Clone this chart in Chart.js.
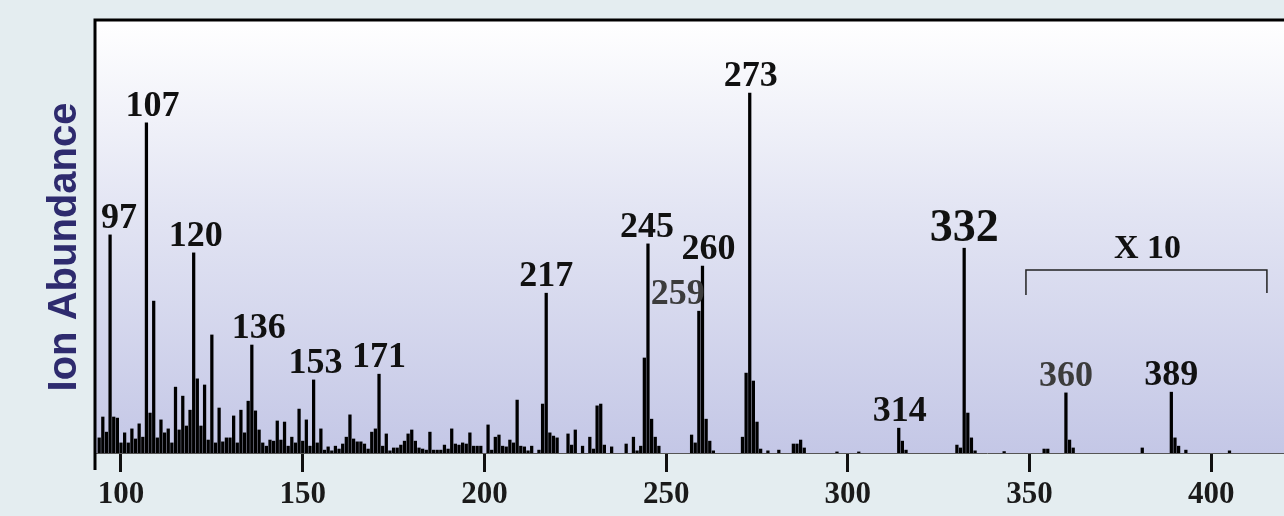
<!DOCTYPE html>
<html>
<head>
<meta charset="utf-8">
<script src="https://cdn.jsdelivr.net/npm/chart.js@4/dist/chart.umd.min.js"></script>
<style>
  body { margin: 0; background: #e4edf0; }
  #wrap { width: 1284px; height: 516px; position: relative; }
</style>
</head>
<body>
<div id="wrap"><canvas id="spectrum"></canvas></div>
<script>
'use strict';

// m/z values and relative abundance (% of base peak 273)
var masses = [
    94, 95, 96, 97, 98, 99, 100, 101, 102, 103, 104, 105, 106, 107, 108, 109,
    110, 111, 112, 113, 114, 115, 116, 117, 118, 119, 120, 121, 122, 123, 124, 125,
    126, 127, 128, 129, 130, 131, 132, 133, 134, 135, 136, 137, 138, 139, 140, 141,
    142, 143, 144, 145, 146, 147, 148, 149, 150, 151, 152, 153, 154, 155, 156, 157,
    158, 159, 160, 161, 162, 163, 164, 165, 166, 167, 168, 169, 170, 171, 172, 173,
    174, 175, 176, 177, 178, 179, 180, 181, 182, 183, 184, 185, 186, 187, 188, 189,
    190, 191, 192, 193, 194, 195, 196, 197, 198, 199, 201, 202, 203, 204, 205, 206,
    207, 208, 209, 210, 211, 212, 213, 215, 216, 217, 218, 219, 220, 223, 224, 225,
    227, 229, 230, 231, 232, 233, 235, 239, 241, 242, 243, 244, 245, 246, 247, 248,
    257, 258, 259, 260, 261, 262, 263, 271, 272, 273, 274, 275, 276, 278, 281, 285,
    286, 287, 288, 297, 303, 314, 315, 316, 330, 331, 332, 333, 334, 335, 343, 354,
    355, 360, 361, 362, 381, 389, 390, 391, 393, 405
];
var abundance = [
    4.2, 10, 5.8, 60.6, 10, 9.7, 2.8, 5.6, 2.8, 6.7, 3.9, 8.1, 4.4, 91.7, 11.1, 42.2,
    4.2, 9.2, 5.6, 6.7, 2.8, 18.3, 6.4, 15.8, 7.5, 11.9, 55.6, 20.6, 7.5, 18.9, 3.6, 32.8,
    2.8, 12.5, 3.1, 4.2, 4.2, 10.3, 2.8, 11.9, 5.6, 14.4, 30, 11.7, 6.4, 2.8, 1.9, 3.6,
    3.3, 8.9, 3.6, 8.6, 1.9, 4.4, 2.8, 12.2, 3.3, 9.2, 1.9, 20.3, 2.8, 6.7, 0.8, 1.7,
    0.6, 1.9, 1.1, 2.5, 4.4, 10.6, 3.9, 3.1, 3.1, 2.5, 1.1, 5.8, 6.7, 21.9, 1.9, 5.3,
    0.6, 1.4, 1.4, 2.2, 3.3, 5.3, 6.4, 3.3, 1.4, 1.1, 0.8, 5.8, 0.8, 0.8, 0.8, 2.2,
    1.1, 6.7, 2.5, 2.2, 2.8, 2.5, 5.6, 1.9, 1.9, 1.9, 7.8, 0.8, 4.4, 5, 1.9, 1.7,
    3.6, 2.8, 14.7, 1.9, 1.7, 0.6, 1.9, 0.8, 13.6, 44.4, 5.6, 4.7, 4.2, 5.3, 2.2, 6.4,
    1.9, 4.4, 1.1, 13.1, 13.6, 2.2, 1.7, 2.5, 4.4, 0.6, 1.9, 26.4, 58.1, 9.4, 4.4, 1.9,
    5, 2.8, 39.4, 51.9, 9.4, 3.3, 0.6, 4.4, 22.2, 100, 20, 8.6, 1.1, 0.6, 0.8, 2.5,
    2.5, 3.6, 1.4, 0.3, 0.3, 6.9, 3.3, 0.8, 2.2, 1.4, 56.9, 11.1, 4.2, 0.6, 0.4, 1.1,
    1.1, 16.7, 3.6, 1.4, 1.4, 16.9, 4.2, 1.9, 0.8, 0.6
];

var tickValues = [100, 150, 200, 250, 300, 350, 400];
var labelledPeaks = [97, 107, 120, 136, 153, 171, 217, 245, 259, 260, 273, 314, 332, 360, 389];

// "X 10" bracket over the high-mass region (m/z from, m/z to)
var zoomRange = [349, 415.3];
var zoomText = 'X 10';

// label nudges in pixels, so numbers sit as in the original figure
var labelShift = { 97: 9, 107: 6, 120: 2, 136: 7, 153: 2, 245: -1, 259: -21, 260: 6, 273: 1, 314: 1 };

var spectrumDecor = {
    id: 'spectrumDecor',
    beforeDraw: function(chart) {
        var ctx = chart.ctx;
        var a = chart.chartArea;
        var g = ctx.createLinearGradient(0, a.top, 0, a.bottom);
        g.addColorStop(0, '#ffffff');
        g.addColorStop(0.45, '#e2e4f3');
        g.addColorStop(1, '#c4c7e6');
        ctx.save();
        ctx.fillStyle = g;
        ctx.fillRect(a.left, a.top, a.right - a.left, a.bottom - a.top);
        ctx.restore();
    },
    afterDraw: function(chart) {
        var ctx = chart.ctx;
        var a = chart.chartArea;
        var xs = chart.scales.x;
        var ys = chart.scales.y;
        ctx.save();

        // frame: top and left sides only
        ctx.strokeStyle = '#000';
        ctx.lineWidth = 3;
        ctx.beginPath();
        ctx.moveTo(a.right, a.top);
        ctx.lineTo(a.left, a.top);
        ctx.lineTo(a.left, a.bottom + 17);
        ctx.stroke();

        // peak labels
        ctx.textAlign = 'center';
        ctx.textBaseline = 'alphabetic';
        labelledPeaks.forEach(function(m) {
            var v = abundance[masses.indexOf(m)];
            var x = xs.getPixelForValue(m) + (labelShift[m] || 0);
            var y = ys.getPixelForValue(v) - 7;
            if (m === 259 || m === 360) {
                ctx.font = 'bold 36px "Liberation Serif"';
                ctx.fillStyle = '#3c3c3c';
            } else if (m === 332) {
                ctx.font = 'bold 46px "Liberation Serif"';
                ctx.fillStyle = '#111';
            } else {
                ctx.font = 'bold 36px "Liberation Serif"';
                ctx.fillStyle = '#111';
            }
            ctx.fillText(String(m), x, y);
        });

        // x10 bracket
        var bx1 = xs.getPixelForValue(zoomRange[0]);
        var bx2 = xs.getPixelForValue(zoomRange[1]);
        var by = 270;
        ctx.strokeStyle = '#222';
        ctx.lineWidth = 1.5;
        ctx.beginPath();
        ctx.moveTo(bx1, by + 25);
        ctx.lineTo(bx1, by);
        ctx.lineTo(bx2, by);
        ctx.lineTo(bx2, by + 23);
        ctx.stroke();
        ctx.font = 'bold 34px "Liberation Serif"';
        ctx.fillStyle = '#111';
        ctx.fillText(zoomText, (bx1 + bx2) / 2 + 1, by - 12);

        // y axis title
        ctx.translate(65, 247);
        ctx.rotate(-Math.PI / 2);
        ctx.font = 'bold 40px "Liberation Sans"';
        ctx.fillStyle = '#2e2b6e';
        ctx.textBaseline = 'middle';
        ctx.fillText('Ion Abundance', 0, 0);
        ctx.restore();
    }
};

var buildChart = function() {
    var ctx = document.getElementById('spectrum');
    return new Chart(ctx, {
        type: 'bar',
        data: {
            datasets: [{
                label: 'Ion abundance',
                data: masses.map(function(m, i) { return { x: m, y: abundance[i] }; }),
                backgroundColor: '#000',
                borderWidth: 0,
                barThickness: 2.6
            }]
        },
        options: {
            responsive: true,
            maintainAspectRatio: false,
            animation: false,
            layout: { padding: { left: 95, top: 20, right: 0, bottom: 0 } },
            plugins: { legend: { display: false }, tooltip: { enabled: false } },
            scales: {
                x: {
                    type: 'linear',
                    min: 92.85,
                    max: 420,
                    offset: false,
                    afterBuildTicks: function(s) {
                        s.ticks = tickValues.map(function(v) { return { value: v }; });
                    },
                    afterFit: function(s) { s.height = 63; },
                    grid: {
                        offset: false,
                        drawOnChartArea: false,
                        drawTicks: true,
                        tickLength: 19,
                        tickWidth: 3,
                        tickColor: '#111'
                    },
                    border: { display: true, color: '#555', width: 1 },
                    ticks: {
                        autoSkip: false,
                        maxRotation: 0,
                        padding: 4,
                        color: '#1a1a1a',
                        font: { family: '"Liberation Serif"', size: 31, weight: 'bold' }
                    }
                },
                y: {
                    display: false,
                    min: 0,
                    max: 120.3
                }
            }
        },
        plugins: [spectrumDecor]
    });
};

buildChart();
</script>
</body>
</html>
